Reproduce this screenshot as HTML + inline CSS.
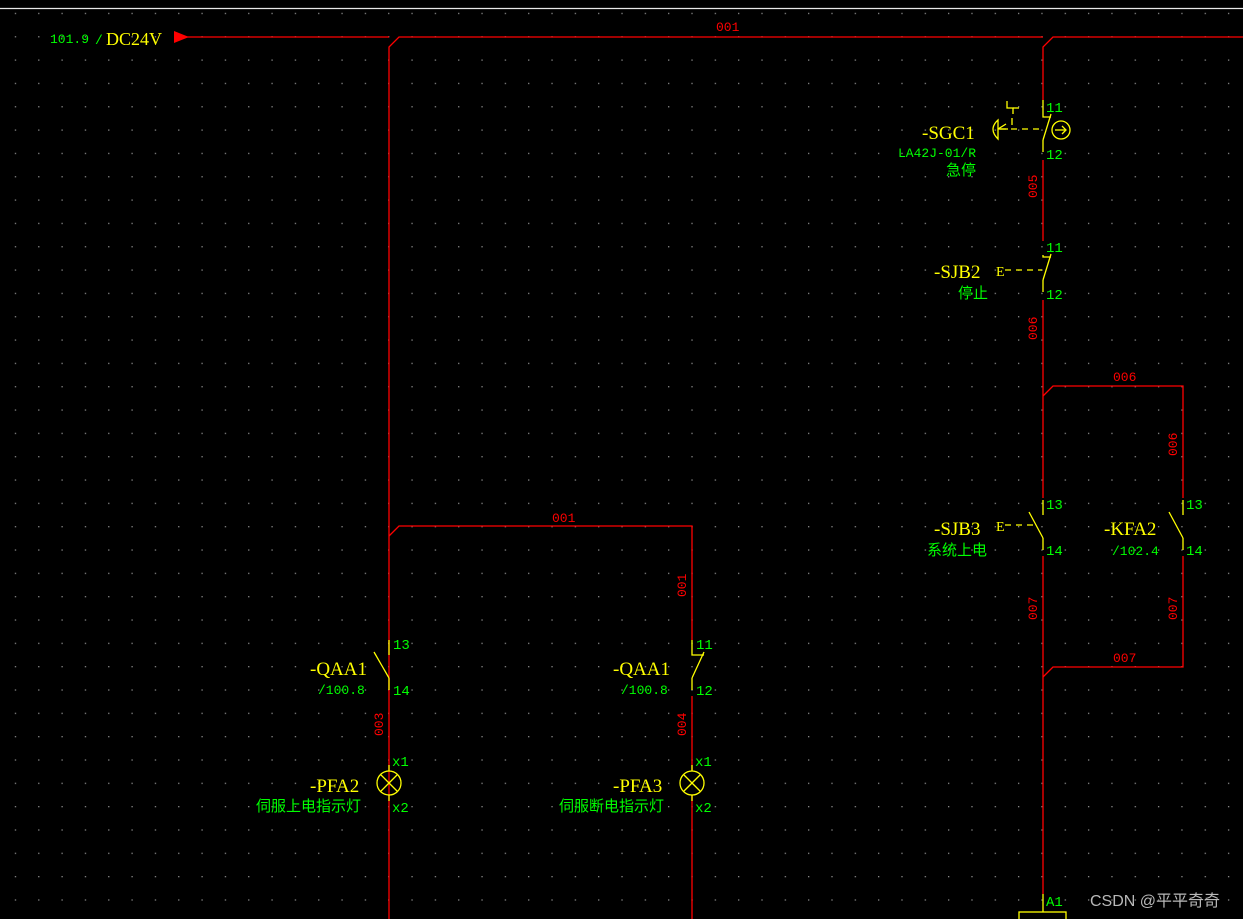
<!DOCTYPE html>
<html><head><meta charset="utf-8"><style>
html,body{margin:0;padding:0;background:#000;overflow:hidden}
svg{display:block}
.y{fill:#ffff00;font-family:"Liberation Serif","Noto Serif CJK SC",serif;font-size:19px}
.g{fill:#00ff00;font-family:"Liberation Mono","Noto Sans CJK SC",monospace;font-size:13px}
.gc{fill:#00ff00;font-family:"Liberation Sans","Noto Sans CJK SC",sans-serif;font-size:15px}
.r{fill:#ff0000;font-family:"Liberation Mono",monospace;font-size:13px}
</style></head><body>
<svg width="1243" height="919" xmlns="http://www.w3.org/2000/svg">
<defs><pattern id="d" x="14.3" y="12.3" width="23.33" height="23.33" patternUnits="userSpaceOnUse"><rect x="0.5" y="0.5" width="1.3" height="1.3" fill="#8a8a8a"/></pattern></defs>
<rect width="1243" height="919" fill="#000"/>
<rect x="0" y="10" width="1243" height="909" fill="url(#d)"/>
<line x1="0" y1="8.5" x2="1243" y2="8.5" stroke="#e8e8e8" stroke-width="1.2"/>
<g stroke="#ff0000" stroke-width="1.3" fill="none">
<line x1="175" y1="37" x2="389" y2="37"/>
<polyline points="389,919 389,47 399,37 1043,37"/>
<polyline points="1043,100 1043,47 1053,37 1243,37"/>
<line x1="1043" y1="160" x2="1043" y2="241"/>
<line x1="1043" y1="300" x2="1043" y2="498"/>
<line x1="1043" y1="556" x2="1043" y2="894"/>
<polyline points="1043,396 1053,386 1183,386 1183,498"/>
<polyline points="1183,556 1183,667 1053,667 1043,677"/>
<polyline points="389,536 399,526 692,526 692,640"/>
<line x1="692" y1="696" x2="692" y2="771"/>
<line x1="692" y1="795" x2="692" y2="919"/>
</g>
<polygon points="174,31 189,37 174,43" fill="#ff0000"/>
<g stroke="#ffff00" stroke-width="1.3" fill="none">
<line x1="389" y1="640" x2="389" y2="655"/><line x1="374" y1="652" x2="389" y2="678"/><line x1="389" y1="678" x2="389" y2="690"/>
<polyline points="692,640 692,655 704,655"/><line x1="704" y1="652" x2="692" y2="678"/><line x1="692" y1="678" x2="692" y2="690"/>
<line x1="389" y1="765" x2="389" y2="771"/><circle cx="389" cy="783" r="12"/><line x1="381" y1="775" x2="397" y2="791"/><line x1="397" y1="775" x2="381" y2="791"/><line x1="389" y1="795" x2="389" y2="801"/>
<line x1="692" y1="765" x2="692" y2="771"/><circle cx="692" cy="783" r="12"/><line x1="684" y1="775" x2="700" y2="791"/><line x1="700" y1="775" x2="684" y2="791"/><line x1="692" y1="795" x2="692" y2="801"/>
<polyline points="1043,100 1043,117 1051,117"/><line x1="1051" y1="114" x2="1043" y2="140"/><line x1="1043" y1="140" x2="1043" y2="152"/>
<circle cx="1061" cy="130" r="9"/><line x1="1055" y1="130" x2="1066" y2="130"/><polyline points="1062,126 1066,130 1062,134"/>
<line x1="1000" y1="129" x2="1042" y2="129" stroke-dasharray="6,5"/>
<path d="M998,120 Q988,129 998,139 Z"/><line x1="998" y1="129" x2="1008" y2="129"/><line x1="998" y1="129" x2="1006" y2="124"/>
<polyline points="1007,101 1007,108 1013,108 1013,114"/><line x1="1013" y1="108" x2="1019" y2="108"/><line x1="1012" y1="118" x2="1012" y2="125"/>
<polyline points="1043,255 1043,257 1051,257"/><line x1="1051" y1="254" x2="1043" y2="280"/><line x1="1043" y1="280" x2="1043" y2="292"/>
<line x1="1005" y1="270" x2="1042" y2="270" stroke-dasharray="6,5"/>
<line x1="1043" y1="500" x2="1043" y2="515"/><line x1="1029" y1="512" x2="1043" y2="538"/><line x1="1043" y1="538" x2="1043" y2="550"/>
<line x1="1005" y1="525" x2="1037" y2="525" stroke-dasharray="6,5"/>
<line x1="1183" y1="500" x2="1183" y2="515"/><line x1="1169" y1="512" x2="1183" y2="538"/><line x1="1183" y1="538" x2="1183" y2="550"/>
<line x1="1043" y1="894" x2="1043" y2="912"/>
<rect x="1019" y="912" width="47" height="12"/>
</g>
<text x="50" y="43" class="g">101.9</text><text x="95" y="44" class="g">/</text>
<text x="106" y="45" class="y" style="font-size:18px">DC24V</text>
<text x="716" y="31" class="r">001</text>
<text x="552" y="522" class="r">001</text>
<text x="1113" y="381" class="r">006</text>
<text x="1113" y="662" class="r">007</text>
<g class="r">
<text transform="translate(1037,198) rotate(-90)">005</text>
<text transform="translate(1037,340) rotate(-90)">006</text>
<text transform="translate(1177,456) rotate(-90)">006</text>
<text transform="translate(1037,620) rotate(-90)">007</text>
<text transform="translate(1177,620) rotate(-90)">007</text>
<text transform="translate(383,736) rotate(-90)">003</text>
<text transform="translate(686,736) rotate(-90)">004</text>
<text transform="translate(686,597) rotate(-90)">001</text>
</g>
<text x="922" y="139" class="y">-SGC1</text>
<text x="898" y="157" class="g">LA42J-01/R</text>
<text x="946" y="175" class="gc">急停</text>
<text x="996" y="276" class="y" style="font-size:14px">E</text>
<text x="934" y="278" class="y">-SJB2</text>
<text x="958" y="298" class="gc">停止</text>
<text x="996" y="531" class="y" style="font-size:14px">E</text>
<text x="934" y="535" class="y">-SJB3</text>
<text x="927" y="555" class="gc">系统上电</text>
<text x="1104" y="535" class="y">-KFA2</text>
<text x="1112" y="555" class="g">/102.4</text>
<g class="g" style="font-size:14px">
<text x="1046" y="112">11</text><text x="1046" y="159">12</text>
<text x="1046" y="252">11</text><text x="1046" y="299">12</text>
<text x="1046" y="509">13</text><text x="1046" y="555">14</text>
<text x="1186" y="509">13</text><text x="1186" y="555">14</text>
<text x="393" y="649">13</text><text x="393" y="695">14</text>
<text x="696" y="649">11</text><text x="696" y="695">12</text>
<text x="392" y="766">x1</text><text x="392" y="812">x2</text>
<text x="695" y="766">x1</text><text x="695" y="812">x2</text>
<text x="1046" y="906">A1</text>
</g>
<text x="310" y="675" class="y">-QAA1</text><text x="318" y="694" class="g">/100.8</text>
<text x="613" y="675" class="y">-QAA1</text><text x="621" y="694" class="g">/100.8</text>
<text x="310" y="792" class="y">-PFA2</text><text x="256" y="811" class="gc">伺服上电指示灯</text>
<text x="613" y="792" class="y">-PFA3</text><text x="559" y="811" class="gc">伺服断电指示灯</text>
<text x="962" y="933" class="y">-KFA1</text>
<text x="1090" y="906" fill="#b8b8b8" style="font-family:'Liberation Sans','Noto Sans CJK SC',sans-serif;font-size:16px">CSDN @平平奇奇</text>
</svg>
</body></html>
